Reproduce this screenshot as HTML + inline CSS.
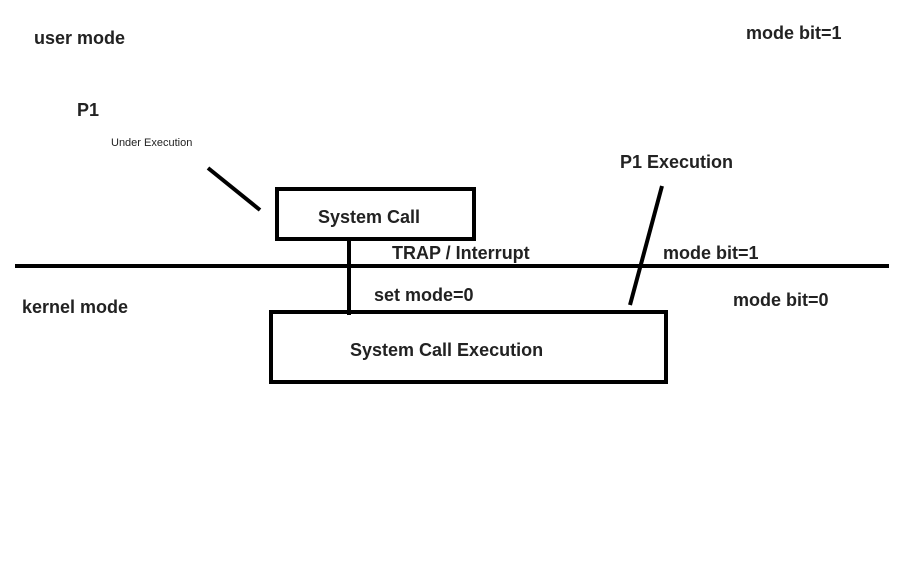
<!DOCTYPE html>
<html><head><meta charset="utf-8"><style>
html,body{margin:0;padding:0;background:#fff;}
svg{display:block;}
text{font-family:"Liberation Sans",sans-serif;font-weight:bold;font-size:18px;fill:#222;}
</style></head><body>
<svg width="916" height="574" viewBox="0 0 916 574" xmlns="http://www.w3.org/2000/svg">
<rect width="916" height="574" fill="#fff"/>
<text x="34" y="44">user mode</text>
<text x="746" y="39">mode bit=1</text>
<text x="77" y="116">P1</text>
<text x="111" y="146" style="font-weight:normal;font-size:11px">Under Execution</text>
<line x1="208" y1="168" x2="260" y2="210" stroke="#000" stroke-width="4"/>
<rect x="277" y="189" width="197" height="50" fill="none" stroke="#000" stroke-width="4"/>
<text x="318" y="223">System Call</text>
<text x="620" y="168">P1 Execution</text>
<line x1="662" y1="186" x2="630" y2="305" stroke="#000" stroke-width="4"/>
<line x1="15" y1="266" x2="889" y2="266" stroke="#000" stroke-width="4"/>
<text x="392" y="259">TRAP / Interrupt</text>
<text x="663" y="259">mode bit=1</text>
<line x1="349" y1="241" x2="349" y2="315" stroke="#000" stroke-width="4"/>
<text x="22" y="313">kernel mode</text>
<text x="374" y="301">set mode=0</text>
<text x="733" y="306">mode bit=0</text>
<rect x="271" y="312" width="395" height="70" fill="none" stroke="#000" stroke-width="4"/>
<text x="350" y="356">System Call Execution</text>
</svg>
</body></html>
